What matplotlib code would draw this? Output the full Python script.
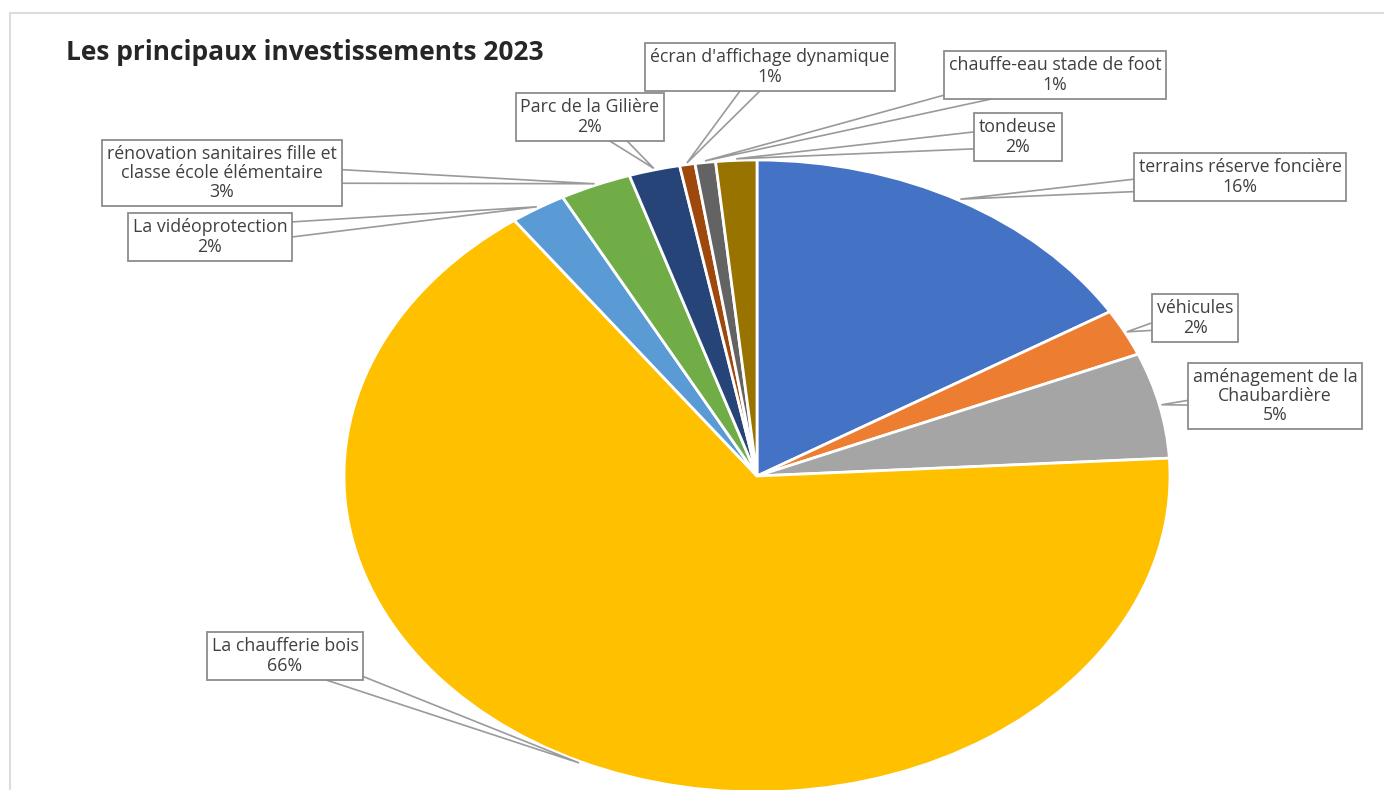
import numpy as np
import matplotlib
matplotlib.use('Agg')
import matplotlib.pyplot as plt
from matplotlib.patches import Polygon
from matplotlib.lines import Line2D

# parts in %, clockwise from the top
categories = ['terrains réserve foncière', 'véhicules', 'aménagement de la\nChaubardière',
              'La chaufferie bois', 'La vidéoprotection',
              'rénovation sanitaires fille et\nclasse école élémentaire', 'Parc de la Gilière',
              "écran d'affichage dynamique", 'chauffe-eau stade de foot', 'tondeuse']
values = [16.3, 2.4, 5.4, 65.9, 2.2, 2.8, 2.0, 0.6, 0.8, 1.6]
colors = ['#4472C4', '#ED7D31', '#A5A5A5', '#FFC000', '#5B9BD5',
          '#70AD47', '#264478', '#9E480E', '#636363', '#997300']

# label box centres in image pixels (x, y from top)
label_pos = [(1240, 177), (1195, 318), (1275, 396), (285, 656), (210, 237),
             (222, 173), (590, 117), (770, 67), (1055, 75), (1018, 137)]

W, H = 1384, 790
fig = plt.figure(figsize=(W / 100, H / 100), dpi=100)
# only the top and left edges of the chart frame are in view
fig.lines.append(Line2D([10 / W, 10 / W, 1], [0, 1 - 13 / H, 1 - 13 / H],
                        transform=fig.transFigure, color='#dcdcdc', linewidth=1.5))

# pie is stretched in the picture: rx 413 px, ry 316 px around (757, 476)
cx, cy, rx, ry = 757, 476, 413, 316
ax = fig.add_axes([(cx - rx) / W, (H - cy - ry) / H, 2 * rx / W, 2 * ry / H])
wedges, _ = ax.pie(values, colors=colors, startangle=90, counterclock=False,
                   wedgeprops=dict(edgecolor='white', linewidth=2))
ax.set_aspect('auto')
ax.set_xlim(-1, 1)
ax.set_ylim(-1, 1)
ax.axis('off')

ov = fig.add_axes([0, 0, 1, 1], facecolor='none')
ov.set_xlim(0, W)
ov.set_ylim(H, 0)
ov.axis('off')

total = sum(values)
to_ov = ax.transData + ov.transData.inverted()
for w, name, v, (bx, by) in zip(wedges, categories, values, label_pos):
    mid = np.deg2rad((w.theta1 + w.theta2) / 2)
    tx, ty = to_ov.transform((np.cos(mid) * 1.005, np.sin(mid) * 1.005))
    d = np.array([tx - bx, ty - by])
    n = np.array([-d[1], d[0]]) / np.hypot(*d)
    half = 10
    tri = [(bx + n[0] * half, by + n[1] * half), (bx - n[0] * half, by - n[1] * half), (tx, ty)]
    ov.add_patch(Polygon(tri, closed=True, facecolor='white', edgecolor='#9a9a9a',
                         linewidth=1.2, zorder=1))
    ov.text(bx, by, f'{name}\n{round(v / total * 100)}%', ha='center', va='center',
            multialignment='center', fontsize=12.8, family='Open Sans',
            color='#404040', linespacing=1.1, zorder=3,
            bbox=dict(boxstyle='square,pad=0.28', facecolor='white', edgecolor='#8c8c8c',
                      linewidth=1.3))

fig.text(66 / W, 1 - 52 / H, 'Les principaux investissements 2023', ha='left', va='center',
         fontsize=19, fontweight='bold', family='Open Sans', color='#262626')

fig.savefig('out.png', dpi=100)
